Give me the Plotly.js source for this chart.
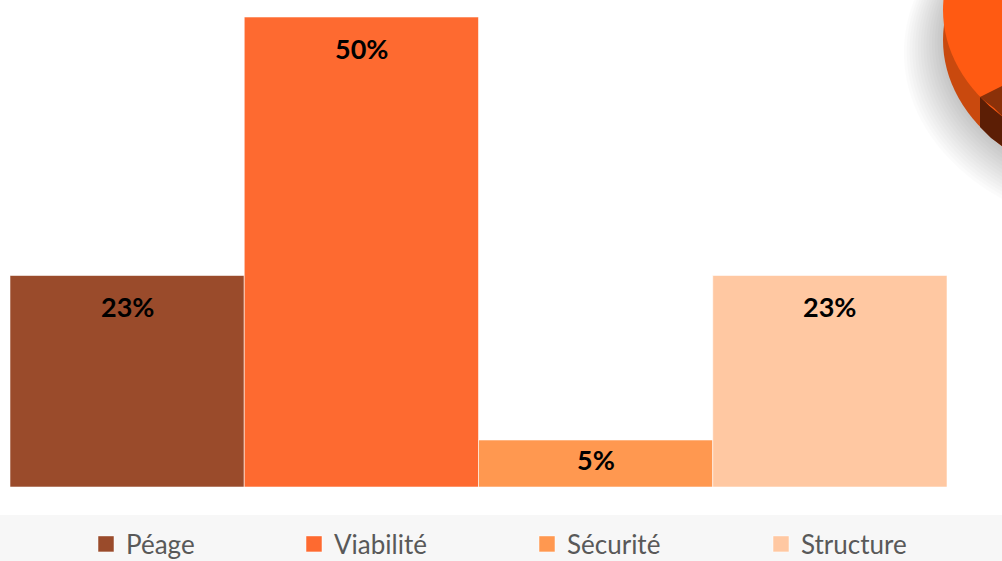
<!DOCTYPE html>
<html>
<head>
<meta charset="utf-8">
<script src="https://cdn.plot.ly/plotly-3.0.1.min.js"></script>
<style>html,body{margin:0;padding:0;background:#fff;}#chart{width:1002px;height:561px;}</style>
</head>
<body>
<div id="chart"></div>
<script>
// ---- data ----
const categories = ["Péage", "Viabilité", "Sécurité", "Structure"];
const values = [22.5, 50, 5, 22.5];
const labels = ["23%", "50%", "5%", "23%"];
const colors = ["#9a4b2b", "#fe6a30", "#ff9850", "#ffc8a2"];

// ---- layout geometry ----
const W = 1002, Hh = 561;
const M = {l: 10, r: 55, t: 17, b: 74, pad: 0, autoexpand: false};
const PW = W - M.l - M.r, PH = Hh - M.t - M.b;
const YMAX = 50;
const px = X => (X - M.l) / PW;          // pixel x -> paper
const py = Y => (Hh - M.b - Y) / PH;     // pixel y -> paper

const legendNames = ["legend", "legend2", "legend3", "legend4"];
const barTraces = categories.map((c, i) => ({
  type: "bar",
  x: [c], y: [values[i]],
  name: c,
  width: 1,
  marker: {color: colors[i], line: {color: "rgba(255,255,255,0.55)", width: 1}},
  showlegend: false,
  hoverinfo: "skip"
}));
// legend entries (square keys like the original)
const keyTraces = categories.map((c, i) => ({
  type: "scatter", mode: "markers",
  x: [null], y: [null],
  name: c,
  marker: {symbol: "square", size: 16, color: colors[i], line: {color: "rgba(255,255,255,0.5)", width: 1}},
  legend: legendNames[i],
  hoverinfo: "skip"
}));

const annotations = categories.map((c, i) => {
  const hpx = values[i] * PH / YMAX;
  return {
    x: c, y: values[i], xref: "x", yref: "y",
    text: labels[i], showarrow: false,
    yanchor: "middle", yshift: -Math.min(31, hpx / 2 - 4),
    font: {family: "Lato, 'Open Sans', sans-serif", size: 27, color: "#000", weight: 700}
  };
});

// decorative 3D pie fragment (top right) + legend band
function ell(cx, cy, rx, ry, fill) {
  return {type: "circle", xref: "paper", yref: "paper",
    x0: px(cx - rx), x1: px(cx + rx), y0: py(cy + ry), y1: py(cy - ry),
    fillcolor: fill, line: {width: 0}, layer: "above"};
}
function poly(pts, fill) {
  const d = pts.map((p, k) => (k ? "L" : "M") + px(p[0]) + "," + py(p[1])).join(" ") + " Z";
  return {type: "path", xref: "paper", yref: "paper", path: d, fillcolor: fill, line: {width: 0}, layer: "above"};
}
const shadow = [];
for (let k = 14; k >= 0; k--) {
  shadow.push(ell(1150 - k * 0.8, 40 + k * 0.9, 207 + k * 2, 152 + k * 2, "rgba(0,0,0,0.016)"));
}
const shapes = [
  {type: "rect", xref: "paper", yref: "paper", x0: px(0), x1: px(W), y0: py(Hh), y1: py(515),
   fillcolor: "#f7f7f7", line: {width: 0}, layer: "below"},
  ...shadow,
  ell(1150, 40, 207, 152, "#c9490e"),
  poly([[980, 97], [980, 127], [991, 138], [1002, 146], [1002, 86]], "#5c1e05"),
  ell(1150, 10, 207, 152, "#ff5a12"),
  poly([[980, 97], [1002, 86], [1002, 116], [994, 108], [986, 102]], "#8b3109")
];

const legFont = {family: "Lato, 'Open Sans', sans-serif", size: 26, color: "#595959"};
const legX = [86, 294, 527, 761];
const layout = {
  width: W, height: Hh,
  margin: M,
  paper_bgcolor: "#ffffff", plot_bgcolor: "rgba(0,0,0,0)",
  barmode: "overlay", bargap: 0,
  xaxis: {type: "category", categoryorder: "array", categoryarray: categories,
          range: [-0.5, categories.length - 0.5], visible: false, fixedrange: true},
  yaxis: {range: [0, YMAX], visible: false, fixedrange: true},
  showlegend: true,
  annotations: annotations,
  shapes: shapes
};
legendNames.forEach((ln, i) => {
  layout[ln] = {x: px(legX[i]), xanchor: "left", y: py(544), yanchor: "middle",
                orientation: "h", bgcolor: "rgba(0,0,0,0)", font: legFont, borderwidth: 0,
                itemsizing: "trace"};
});

Plotly.newPlot("chart", barTraces.concat(keyTraces), layout, {displayModeBar: false, staticPlot: true});
</script>
</body>
</html>
